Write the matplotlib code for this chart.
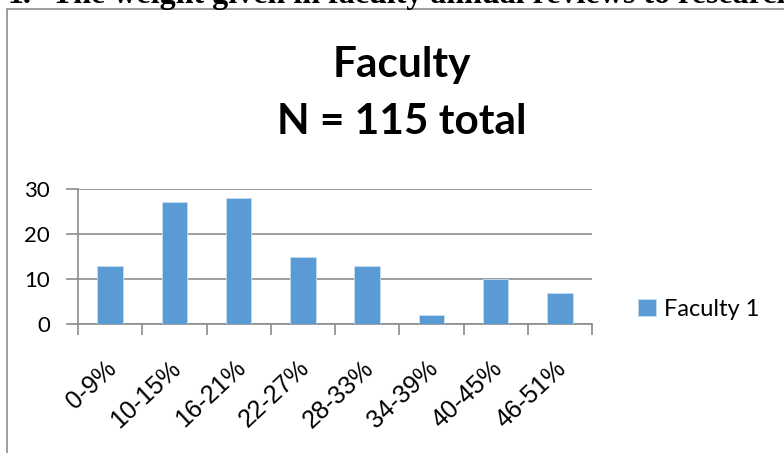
import numpy as np
import matplotlib.pyplot as plt
import matplotlib.transforms as mtransforms
from matplotlib.patches import Rectangle

categories = ["0-9%", "10-15%", "16-21%", "22-27%", "28-33%", "34-39%", "40-45%", "46-51%"]
faculty_1 = [13, 27, 28, 15, 13, 2, 10, 7]
series_name = "Faculty 1"
title_lines = ["Faculty", "N = 115 total"]
heading_num = "1."
heading = "The weight given in faculty annual reviews to research"

W, H = 784, 453
fig = plt.figure(figsize=(W / 100, H / 100), dpi=100)

# texte de la page, coupe en haut
fig.text(8 / W, 1 - 3 / H, heading_num, fontsize=23, fontweight="bold",
         family="Liberation Serif", va="baseline", ha="left")
fig.text(52 / W, 1 - 3 / H, heading, fontsize=23, fontweight="bold",
         family="Liberation Serif", va="baseline", ha="left")

# cadre du graphique
frame = Rectangle((7 / W, -0.1), 1.2, 1 - 9 / H + 0.1, transform=fig.transFigure,
                  fill=False, edgecolor="#8c8c8c", linewidth=1.2)
fig.add_artist(frame)

# titre sur deux lignes
fig.text(402 / W, 1 - 77 / H, title_lines[0], fontsize=30.5, fontweight="bold",
         family="Lato", ha="center", va="baseline")
fig.text(402 / W, 1 - 134 / H, title_lines[1], fontsize=30.5, fontweight="bold",
         family="Lato", ha="center", va="baseline")

ax = fig.add_axes([78 / W, 1 - 324 / H, (592 - 78) / W, (324 - 189) / H])
x = np.arange(len(categories))
ax.bar(x, faculty_1, width=0.4, color="#5b9bd5", edgecolor="#c5dcf0",
       linewidth=0.6, label=series_name, zorder=3)

ax.set_xlim(-0.5, len(categories) - 0.5)
ax.set_ylim(0, 30)
ax.set_yticks([0, 10, 20, 30])
ax.yaxis.grid(True, color="#8c8c8c", linewidth=1.2, zorder=0)
for s in ["top", "right"]:
    ax.spines[s].set_visible(False)
for s in ["left", "bottom"]:
    ax.spines[s].set_color("#8c8c8c")
    ax.spines[s].set_linewidth(1.2)
ax.tick_params(axis="y", length=9, width=1.2, color="#8c8c8c", pad=11,
               labelsize=16, labelfontfamily="Lato")

# ticks aux frontieres, etiquettes au centre
ax.set_xticks(np.arange(len(categories) + 1) - 0.5)
ax.set_xticklabels([])
ax.tick_params(axis="x", which="major", length=8, width=1.2, color="#8c8c8c")
ax.set_xticks(x, minor=True)
ax.set_xticklabels(categories, minor=True, rotation=43, ha="right", va="top",
                   rotation_mode="anchor", fontsize=18, family="Liberation Sans")
ax.tick_params(axis="x", which="minor", length=0, pad=23)
shift = mtransforms.ScaledTranslation(-5 / 100, 0, fig.dpi_scale_trans)
for lab in ax.get_xticklabels(minor=True):
    lab.set_transform(lab.get_transform() + shift)

ax.legend(loc="center left", bbox_to_anchor=(1.09, 0.11), frameon=False,
          prop={"family": "Lato", "size": 17}, handlelength=0.75,
          handleheight=0.75, handletextpad=0.35, borderpad=0, borderaxespad=0)

plt.savefig("out.png", dpi=100)
